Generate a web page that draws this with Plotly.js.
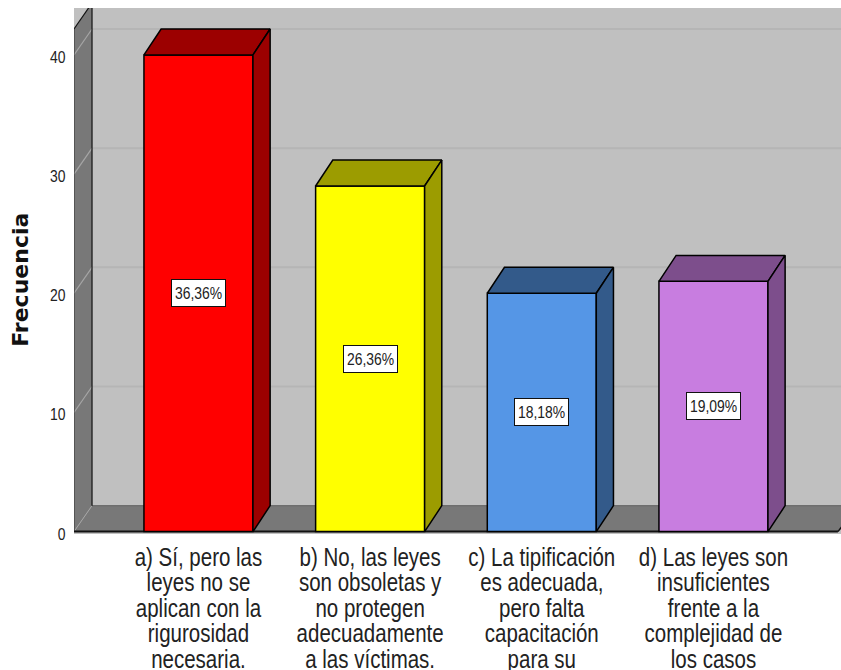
<!DOCTYPE html>
<html>
<head>
<meta charset="utf-8">
<script src="https://cdn.plot.ly/plotly-3.0.1.min.js"></script>
<style>html,body{margin:0;padding:0;background:#fff;overflow:hidden}</style>
</head>
<body>
<div id="chart" style="width:841px;height:670px"></div>
<script>
const categories = [
  "a) Sí, pero las<br>leyes no se<br>aplican con la<br>rigurosidad<br>necesaria.",
  "b) No, las leyes<br>son obsoletas y<br>no protegen<br>adecuadamente<br>a las víctimas.",
  "c) La tipificación<br>es adecuada,<br>pero falta<br>capacitación<br>para su",
  "d) Las leyes son<br>insuficientes<br>frente a la<br>complejidad de<br>los casos"
];
const positions = [0, 1, 2, 3];
const frecuencia = [40, 29, 20, 21];
const porcentajes = ["36,36%", "26,36%", "18,18%", "19,09%"];
const yTicks = [0, 10, 20, 30, 40];
const frontColors = ["#ff0000", "#ffff00", "#5596e6", "#c87de0"];
const darkColors = ["#9c0000", "#9c9c00", "#335a8a", "#7d4e8c"];

const barW = 0.635, dx = 0.1, dy = 2.18;
const xMin = -0.725, xMax = 3.743, xFloorEnd = 3.725;
const yMin = -0.2, yMax = 43.94, wallTop = 42.18;
const sans = '"Liberation Sans",Arial,sans-serif';

const traces = [{
  type: 'bar', x: positions, y: frecuencia, width: barW,
  marker: {color: frontColors, line: {color: '#000', width: 1.5}},
  hoverinfo: 'y', showlegend: false
}];
positions.forEach((c, i) => {
  const v = frecuencia[i], l = c - barW / 2, r = c + barW / 2;
  traces.push({
    type: 'scatter', mode: 'lines', fill: 'toself', fillcolor: darkColors[i],
    x: [l, l + dx, r + dx, r, l], y: [v, v + dy, v + dy, v, v],
    line: {color: '#000', width: 1.5}, hoverinfo: 'skip', showlegend: false
  });
  traces.push({
    type: 'scatter', mode: 'lines', fill: 'toself', fillcolor: darkColors[i],
    x: [r, r + dx, r + dx, r, r], y: [0, dy, v + dy, v, 0],
    line: {color: '#000', width: 1.5}, hoverinfo: 'skip', showlegend: false
  });
});

function poly(pts, fill) {
  return {
    type: 'path', layer: 'below', xref: 'x', yref: 'y',
    path: 'M' + pts.map(p => p[0] + ' ' + p[1]).join(' L') + ' Z',
    fillcolor: fill, line: {width: 0}
  };
}
function seg(x0, y0, x1, y1, color, width) {
  return {type: 'line', layer: 'below', xref: 'x', yref: 'y', x0, y0, x1, y1, line: {color, width}};
}
const xB = xMin + 0.105;
const shapes = [
  poly([[xMin, 0], [xB, dy], [xB, wallTop + dy], [xMin, wallTop]], '#787878'),
  poly([[xMin, 0], [xB, dy], [xMax + dx, dy], [xFloorEnd, 0]], '#787878')
];
yTicks.slice(1).forEach(t => {
  shapes.push(seg(xB, t + dy, xMax, t + dy, '#b5b5b5', 2));
  shapes.push(seg(xMin, t, xB, t + dy, '#a6a6a6', 1.2));
});
shapes.push(seg(xMin, 0, xB, dy, '#a6a6a6', 1));
shapes.push(seg(xB, dy, xMax, dy, '#6e6e6e', 1.5));
shapes.push(seg(xMin, 0, xMin, wallTop, '#333333', 1));
shapes.push(seg(xB, dy, xB, yMax, '#111111', 1.2));
shapes.push(seg(xMin, wallTop, xB, wallTop + dy, '#111111', 1.2));
shapes.push(seg(xMin, 0, xFloorEnd, 0, '#111111', 2));
shapes.push(seg(xFloorEnd, 0, xMax + dx, dy, '#111111', 1.5));

const annotations = positions.map((c, i) => ({
  x: c, y: frecuencia[i] / 2, xref: 'x', yref: 'y', text: porcentajes[i], showarrow: false,
  width: 47, height: 20,
  bgcolor: '#ffffff', bordercolor: '#111111', borderwidth: 1, borderpad: 3,
  font: {family: sans, size: 17, color: '#222222'}
}));
annotations.push({
  text: '<b>Frecuencia</b>', xref: 'paper', yref: 'paper', x: -0.0691, y: 0.4833,
  xanchor: 'center', yanchor: 'middle', textangle: -90, showarrow: false,
  font: {family: '"DejaVu Sans",Verdana,sans-serif', size: 22, color: '#111111'}
});

const layout = {
  width: 841, height: 670,
  margin: {l: 74, r: 0, t: 8, b: 135.6, pad: 0},
  paper_bgcolor: '#ffffff', plot_bgcolor: '#c0c0c0',
  showlegend: false, shapes, annotations,
  xaxis: {
    type: 'linear', range: [xMin, xMax], tickmode: 'array', tickvals: positions, ticktext: categories,
    showgrid: false, zeroline: false, showline: false, tickangle: 0,
    ticks: 'outside', ticklen: 1, tickcolor: 'rgba(0,0,0,0)',
    tickfont: {family: sans, size: 25, color: '#222222'}
  },
  yaxis: {
    range: [yMin, yMax], tickmode: 'array', tickvals: yTicks, ticktext: yTicks.map(String),
    showgrid: false, zeroline: false, showline: false,
    ticks: 'outside', ticklen: 4, tickcolor: 'rgba(0,0,0,0)',
    tickfont: {family: sans, size: 17, color: '#222222'}
  }
};

// The installed Liberation Sans has no narrow cut: condense the drawn text horizontally.
function squeeze(el, sx, anchorRight, shiftY) {
  const b = el.getBBox();
  const cx = anchorRight ? b.x + b.width : b.x + b.width / 2;
  const old = el.getAttribute('transform') || '';
  el.setAttribute('transform', `${old} translate(${cx} ${shiftY}) scale(${sx} 1) translate(${-cx} 0)`);
}

Plotly.newPlot('chart', traces, layout, {displayModeBar: false, responsive: false}).then(gd => {
  gd.querySelectorAll('.xtick text').forEach(t => {
    t.querySelectorAll('tspan.line').forEach(s => {
      const d = parseFloat(s.getAttribute('dy'));
      if (!isNaN(d)) s.setAttribute('dy', (d * 25.5 / (1.3 * 25)).toFixed(3) + 'em');
    });
    squeeze(t, 0.82, false, 0);
  });
  gd.querySelectorAll('.ytick text').forEach(t => squeeze(t, 0.82, true, 2));
  gd.querySelectorAll('.annotation-text').forEach(t => {
    if (t.textContent.includes('%')) {
      squeeze(t, 0.82, false, 1);
      for (let n = t; n && !n.classList.contains('annotation'); n = n.parentNode) {
        n.removeAttribute('clip-path');
        n.style.clipPath = 'none';
      }
    }
  });
});
</script>
</body>
</html>
